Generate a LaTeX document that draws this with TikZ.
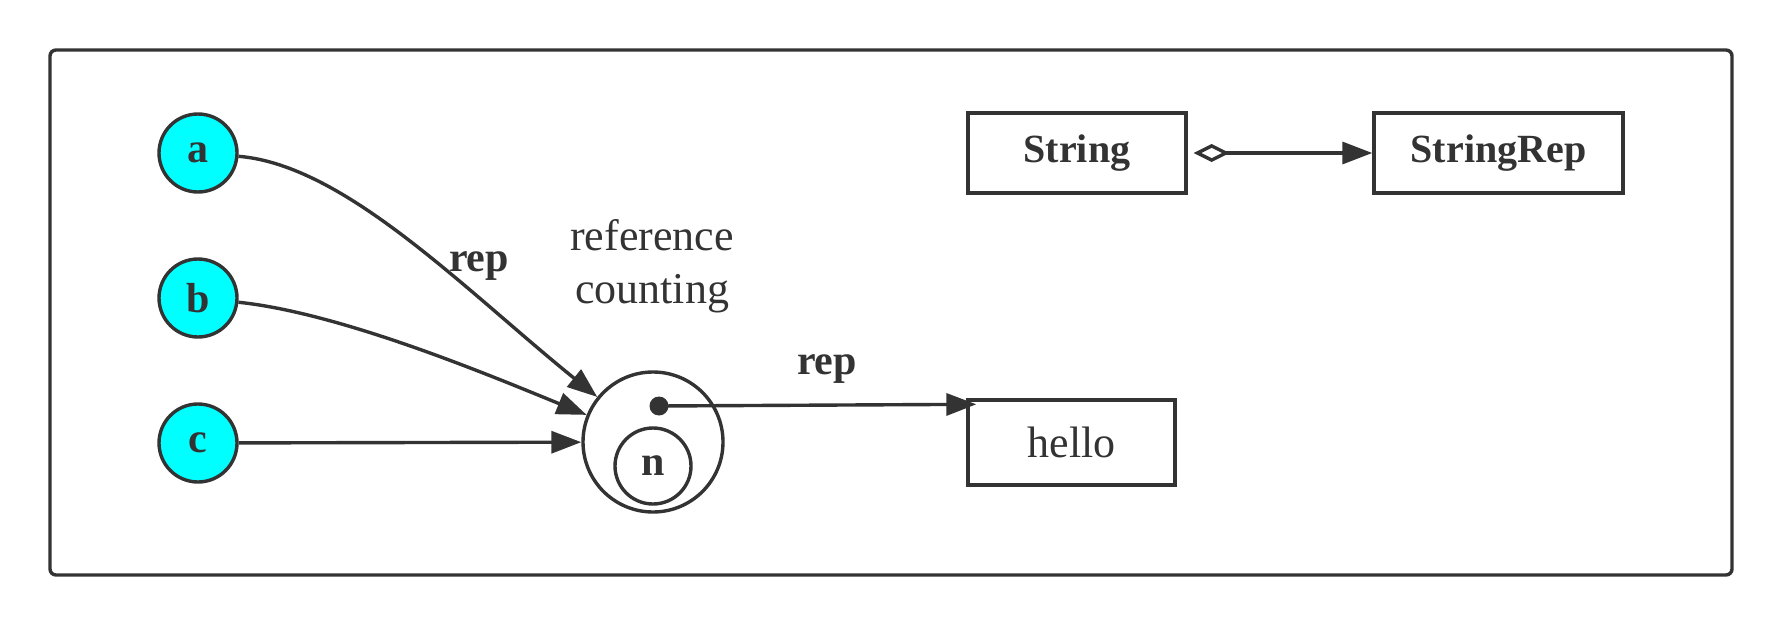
\documentclass[tikz,border=0pt]{standalone}
\usepackage{fontspec}
\setmainfont{Liberation Serif}
\usetikzlibrary{arrows.meta,calc}
\definecolor{ink}{HTML}{333333}
\definecolor{leafcyan}{HTML}{00FFFF}
\begin{document}
\begin{tikzpicture}[x=0.5pt,y=-0.5pt,line width=1.7pt,
  bfont/.style={font=\fontsize{21}{25}\selectfont\bfseries,text=ink},
  rfont/.style={font=\fontsize{22}{26.5}\selectfont,text=ink},
  leaf/.style={circle,draw=ink,fill=leafcyan,line width=1.7pt,minimum size=39pt,inner sep=0pt,bfont},
  boxnode/.style={rectangle,draw=ink,line width=1.7pt,inner sep=0pt},
  conn/.style={draw=ink,line width=1.7pt,-{Triangle[length=15pt,width=11pt]}},
  frame/.style={draw=ink,line width=1.7pt,rounded corners=3pt}]
\useasboundingbox (0,0) rectangle (1782,626);
\draw[frame] (50,50) rectangle (1732,575);

\node[leaf] (a) at (198,153) {a};
\node[leaf] (b) at (198,298) {b};
\node[leaf] (c) at (198,443) {c};

\node[circle,draw=ink,line width=1.7pt,minimum size=70pt,inner sep=0pt] (N) at (653,442) {};
\node[circle,draw=ink,line width=1.7pt,minimum size=38pt,inner sep=0pt,bfont] (n) at (653,466) {n};
\node[circle,fill=ink,minimum size=9.5pt,inner sep=0pt] (dot) at (659,406) {};

\node[boxnode,minimum width=103.5pt,minimum height=42.5pt,rfont] (hello) at (1071.5,442.5) {hello};
\node[boxnode,minimum width=109pt,minimum height=40pt,font=\fontsize{20}{24}\selectfont\bfseries,text=ink] (String) at (1077,153) {String};
\node[boxnode,minimum width=124.5pt,minimum height=40pt,font=\fontsize{20}{24}\selectfont\bfseries,text=ink] (StringRep) at (1498.5,153) {StringRep};

\node[rfont,align=center,inner sep=0pt] (rc) at (652,266) {reference\\counting};
\node[bfont,inner sep=0pt] (rep1) at (479,266) {rep};
\node[bfont,inner sep=0pt] (rep2) at (827,369) {rep};

\draw[conn] (a) .. controls (345,165) and (465,290) .. (N);
\draw[conn] (b) .. controls (341,313) and (489,375) .. (N);
\draw[conn] (c) -- (N);
\draw[conn] (dot.center) -- ([xshift=5pt,yshift=-3pt]hello.north west);
\draw[draw=ink,line width=1.7pt,{Diamond[open,fill=white,length=18pt,width=9pt]}-{Triangle[length=15pt,width=11pt]}] ([xshift=3pt]String.east) -- (StringRep.west);
\end{tikzpicture}
\end{document}
